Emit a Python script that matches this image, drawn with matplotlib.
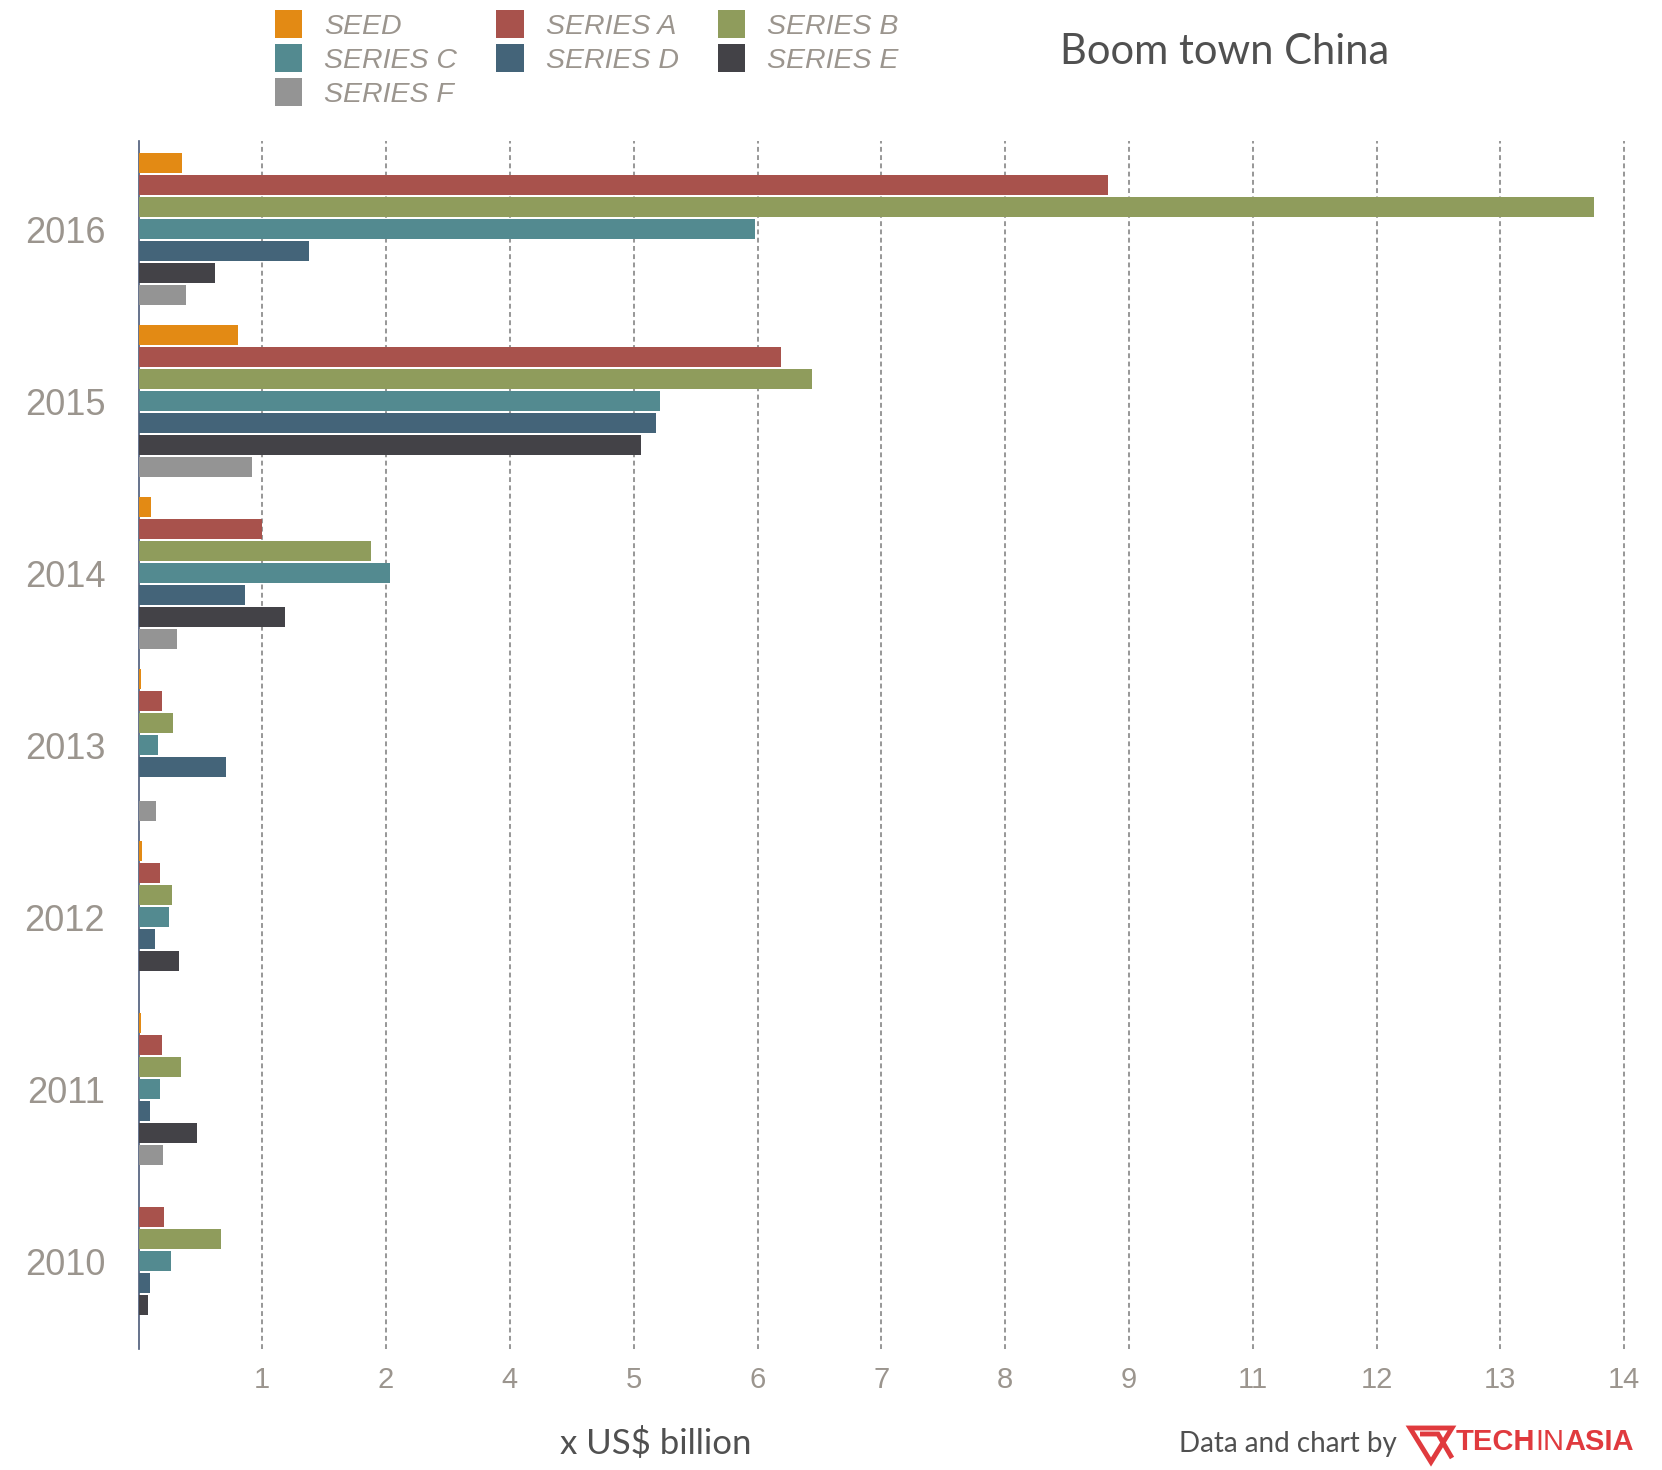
import matplotlib.pyplot as plt
import numpy as np
from matplotlib.patches import Rectangle, Polygon

# funding per round (in grid units)
years = [2010, 2011, 2012, 2013, 2014, 2015, 2016]
series_names = ['SEED', 'SERIES A', 'SERIES B', 'SERIES C', 'SERIES D', 'SERIES E', 'SERIES F']
seed     = [0.00, 0.02, 0.03, 0.02, 0.10, 0.80, 0.35]
series_a = [0.21, 0.19, 0.17, 0.19, 1.00, 5.19, 7.83]
series_b = [0.67, 0.34, 0.27, 0.28, 1.88, 5.44, 11.76]
series_c = [0.26, 0.17, 0.25, 0.16, 2.03, 4.21, 4.98]
series_d = [0.09, 0.09, 0.13, 0.71, 0.86, 4.18, 1.38]
series_e = [0.08, 0.47, 0.33, 0.00, 1.18, 4.06, 0.62]
series_f = [0.00, 0.20, 0.00, 0.14, 0.31, 0.92, 0.38]
tick_pos = [1, 2, 3, 4, 5, 6, 7, 8, 9, 10, 11, 12]
tick_labels = ['1', '2', '4', '5', '6', '7', '8', '9', '11', '12', '13', '14']

colors = ['#E38A14', '#A8524C', '#8F9C5C', '#538A90', '#446479', '#434247', '#949494']
all_series = [seed, series_a, series_b, series_c, series_d, series_e, series_f]

W, H = 1662, 1470
fig = plt.figure(figsize=(W / 100, H / 100), dpi=100)
ax = fig.add_axes([138.5 / W, 1 - 1349 / H, 1498 / W, (1349 - 141) / H])

step = 22 / 172
bar_h = 20 / 172
ypos = np.arange(len(years))
for i, (vals, col) in enumerate(zip(all_series, colors)):
    ax.barh(ypos - (i - 3) * step, vals, height=bar_h, color=col, linewidth=0, zorder=3)

ax.set_xlim(0, 12.1)
ax.set_ylim(-0.51, 6.513)
ax.set_xticks(tick_pos)
ax.set_xticklabels(tick_labels, fontsize=21, color='#9b958e', family='Liberation Sans')
ax.set_yticks(ypos)
ax.set_yticklabels([str(y) for y in years], fontsize=26, color='#9b958e', family='Liberation Sans')
ax.tick_params(axis='both', length=0)
ax.tick_params(axis='x', pad=12)
ax.tick_params(axis='y', pad=24)
ax.grid(axis='x', linestyle=(0, (2.4, 1.7)), color='#999999', linewidth=1.45, zorder=1)
ax.grid(axis='y', visible=False)
for s in ['top', 'right', 'bottom']:
    ax.spines[s].set_visible(False)
ax.spines['left'].set_color('#4b5a78')
ax.spines['left'].set_linewidth(1.2)

# legend, three per row
patch_x = [274.5, 496, 717.6]
text_x = [324, 546, 767]
row_y = [24, 58, 92]
for i, (name, col) in enumerate(zip(series_names, colors)):
    r, c = divmod(i, 3)
    fig.add_artist(Rectangle((patch_x[c] / W, 1 - (row_y[r] + 13.8) / H), 27.6 / W, 27.6 / H,
                             transform=fig.transFigure, color=col, linewidth=0))
    fig.text(text_x[c] / W, 1 - (row_y[r] + 3) / H, name, fontsize=20.5, style='italic',
             color='#9b958e', family='Liberation Sans', va='center', ha='left')

fig.text(1060 / W, 1 - 52 / H, 'Boom town China', fontsize=30, color='#505050',
         family='Lato', va='center', ha='left')
fig.text(560 / W, 1 - 1444 / H, 'x US$ billion', fontsize=25, color='#505050',
         family='Lato', va='center', ha='left')
fig.text(1397 / W, 1 - 1444 / H, 'Data and chart by', fontsize=20, color='#505050',
         family='Lato', va='center', ha='right')

# Tech in Asia logo
red = '#E03A3E'
fig.add_artist(Polygon([(1410 / W, 1 - 1428 / H), (1452 / W, 1 - 1428 / H), (1431 / W, 1 - 1462 / H)],
                       closed=True, fill=False, edgecolor=red, linewidth=3.5, transform=fig.transFigure))
fig.add_artist(Polygon([(1420 / W, 1 - 1434 / H), (1438 / W, 1 - 1434 / H), (1452 / W, 1 - 1458 / H)],
                       closed=False, fill=False, edgecolor=red, linewidth=3.5, transform=fig.transFigure))
t1 = fig.text(1456 / W, 1 - 1442 / H, 'TECH', fontsize=21, color=red, fontweight='bold',
              family=['Liberation Sans Narrow', 'Liberation Sans'], va='center', ha='left')
fig.canvas.draw()
bb = t1.get_window_extent()
t2 = fig.text(bb.x1 / W, 1 - 1442 / H, 'IN', fontsize=21, color=red,
              family=['Liberation Sans Narrow', 'Liberation Sans'], va='center', ha='left')
fig.canvas.draw()
bb2 = t2.get_window_extent()
fig.text(bb2.x1 / W, 1 - 1442 / H, 'ASIA', fontsize=21, color=red, fontweight='bold',
         family=['Liberation Sans Narrow', 'Liberation Sans'], va='center', ha='left')

fig.savefig('out.png', dpi=100, facecolor='white')
